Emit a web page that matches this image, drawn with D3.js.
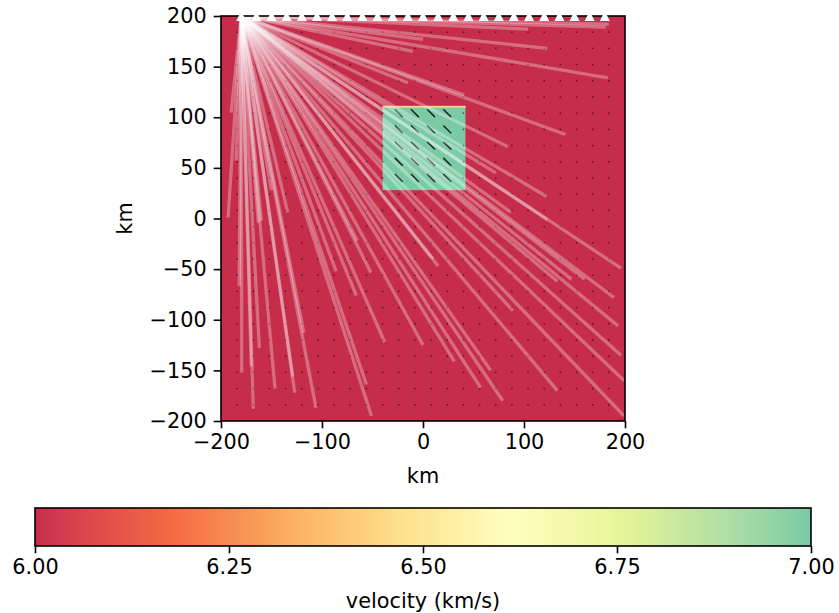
<!DOCTYPE html>
<html>
<head>
<meta charset="utf-8">
<script src="https://cdn.jsdelivr.net/npm/d3@7"></script>
<style>
  body { margin: 0; background: #fff; }
  text { font-family: "DejaVu Sans", sans-serif; }
</style>
</head>
<body>
<svg id="chart" width="839" height="613"></svg>
<script>
// ---- data (km, km/s) ----
const xTicks = [-200, -100, 0, 100, 200];
const yTicks = [-200, -150, -100, -50, 0, 50, 100, 150, 200];
const cbTicks = [6.0, 6.25, 6.5, 6.75, 7.0];
const velocityRange = [6.0, 7.0];
const backgroundVelocity = 6.0;
const anomalyVelocity = 7.0;
const edgeVelocity = 6.45;
const anomalyX = [-40, 42];
const anomalyY = [28, 111];
const source = [-180, 200];
const stations = [-180, -165, -150, -135, -120, -105, -90, -75, -60, -45, -30, -15, 0,
                  15, 30, 45, 60, 75, 90, 105, 120, 135, 150, 165, 180];
const gridX = [-184, -168, -152, -136, -120, -104, -88, -72, -56, -40, -24, -8,
               8, 24, 40, 56, 72, 88, 104, 120, 136, 152, 168, 184];
const gridY = [184, 168, 152, 136, 120, 104, 88, 72, 56, 40, 24, 8,
               -8, -24, -40, -56, -72, -88, -104, -120, -136, -152, -168, -184];
const dashX = [-24, -8, 8, 24];
const dashY = [104, 88, 72, 56, 40];
const dashLength = 11;
// ray end points
const rayEnds = [
  [184, 192], [181, 189], [104, 187], [123, 168], [0, 177], [183, 139], [41, 122],
  [141, 83], [84, 71], [122, 22], [72, 45], [87, 6], [123, -1], [-10, 165], [-15, 134],
  [15, -47], [10, -40], [31, -141], [67, -150], [79, -180], [89, -91], [57, -167],
  [133, -170], [133, -62], [147, -60], [160, -60], [189, -78], [196, -49], [193, -106],
  [196, -135], [199, -160], [199, -195],
  [-182, -67], [-179.5, -152], [-170, -146], [-168, -188], [-162, -128], [-163, -4],
  [-146.5, -168], [-127, -172], [-129, -156], [-118, -113], [-106, -187], [-86, -52],
  [-66, -76], [-51.5, -53.5], [-56, -164], [-51, -195], [-38, -122], [0, -125], [-65, -22],
  [-190, 104.5], [-185, 57], [-193, 1], [-160, -2], [-150, 28], [-134, 6]
];

// ---- colour map: Spectral segment ----
const spectral = ["#9e0142", "#d53e4f", "#f46d43", "#fdae61", "#fee08b", "#ffffbf",
                  "#e6f598", "#abdda4", "#66c2a5", "#3288bd", "#5e4fa2"];
const spectralScale = d3.scaleLinear()
  .domain(d3.range(spectral.length).map(i => i / (spectral.length - 1)))
  .range(spectral)
  .interpolate(d3.interpolateRgb);
const tOf = d3.scaleLinear().domain(velocityRange).range([0.072, 0.77]);
const color = v => spectralScale(tOf(v));

// ---- layout ----
const FONT = 20.8;
const TICK = 7.3;
const LW = 1.6;
const svg = d3.select("#chart");
const plot = { left: 221, top: 16, width: 404, height: 405 };
const x = d3.scaleLinear().domain([-200, 200]).range([plot.left, plot.left + plot.width]);
const y = d3.scaleLinear().domain([-200, 200]).range([plot.top + plot.height, plot.top]);

svg.append("rect").attr("width", 839).attr("height", 613).attr("fill", "#fff");

const defs = svg.append("defs");
defs.append("clipPath").attr("id", "plotClip")
  .append("rect").attr("x", plot.left).attr("y", plot.top)
  .attr("width", plot.width).attr("height", plot.height);
defs.append("clipPath").attr("id", "stationClip")
  .append("rect").attr("x", plot.left).attr("y", plot.top - 1)
  .attr("width", plot.width).attr("height", plot.height + 1);

const g = svg.append("g").attr("clip-path", "url(#plotClip)");

// velocity model
g.append("rect")
  .attr("x", x(-200)).attr("y", y(200))
  .attr("width", x(200) - x(-200)).attr("height", y(-200) - y(200))
  .attr("fill", color(backgroundVelocity));
g.append("rect")
  .attr("x", x(anomalyX[0])).attr("y", y(anomalyY[1]))
  .attr("width", x(anomalyX[1]) - x(anomalyX[0]))
  .attr("height", y(anomalyY[0]) - y(anomalyY[1]))
  .attr("fill", color(anomalyVelocity));
g.append("rect")
  .attr("x", x(anomalyX[0])).attr("y", y(anomalyY[1]) - 0.3)
  .attr("width", x(anomalyX[1]) - x(anomalyX[0]))
  .attr("height", 1.8)
  .attr("fill", color(edgeVelocity));

// grid glyphs: dots where isotropic, dashes inside the anomaly
const cells = [];
gridY.forEach(cy => gridX.forEach(cx => cells.push([cx, cy])));
const isDash = c => dashX.includes(c[0]) && dashY.includes(c[1]);
g.append("g").selectAll("rect").data(cells.filter(c => !isDash(c))).join("rect")
  .attr("x", d => x(d[0]) - 0.75).attr("y", d => y(d[1]) - 0.75)
  .attr("width", 1.5).attr("height", 1.5)
  .attr("fill", "#000").attr("opacity", 0.55);

const half = dashLength / (2 * Math.SQRT2);
const dashes = [];
dashY.forEach(cy => dashX.forEach(cx => dashes.push([cx, cy])));
g.append("g").selectAll("line").data(dashes).join("line")
  .attr("x1", d => x(d[0] - half)).attr("y1", d => y(d[1] + half))
  .attr("x2", d => x(d[0] + half)).attr("y2", d => y(d[1] - half))
  .attr("stroke", "#000").attr("stroke-width", 1.5).attr("opacity", 0.8);

// rays
g.append("g").selectAll("line").data(rayEnds).join("line")
  .attr("x1", x(source[0])).attr("y1", y(source[1]))
  .attr("x2", d => x(d[0])).attr("y2", d => y(d[1]))
  .attr("stroke", "#fff").attr("stroke-width", 3.3)
  .attr("stroke-opacity", 0.3);

// frame
svg.append("rect")
  .attr("x", plot.left).attr("y", plot.top)
  .attr("width", plot.width).attr("height", plot.height)
  .attr("fill", "none").attr("stroke", "#000").attr("stroke-width", LW);

// stations: upward triangles centred on the surface, clipped to the model
const s = 5;
svg.append("g").attr("clip-path", "url(#stationClip)")
  .selectAll("path").data(stations).join("path")
  .attr("d", `M0,${-s}L${s},${s}L${-s},${s}Z`)
  .attr("transform", d => `translate(${x(d)},${y(200)})`)
  .attr("fill", "#fff");

// axes
const fmt = d3.format("d");
const xAxis = svg.append("g")
  .attr("transform", `translate(0,${plot.top + plot.height})`)
  .call(d3.axisBottom(x).tickValues(xTicks).tickSize(TICK).tickPadding(6).tickFormat(fmt));
const yAxis = svg.append("g")
  .attr("transform", `translate(${plot.left},0)`)
  .call(d3.axisLeft(y).tickValues(yTicks).tickSize(TICK).tickPadding(7).tickFormat(fmt));
[xAxis, yAxis].forEach(a => {
  a.select(".domain").remove();
  a.selectAll(".tick line").attr("stroke", "#000").attr("stroke-width", LW);
  a.selectAll(".tick text").attr("fill", "#000").attr("font-size", FONT)
    .attr("font-family", "DejaVu Sans, sans-serif");
});

svg.append("text").attr("x", x(0)).attr("y", 483)
  .attr("text-anchor", "middle").attr("font-size", FONT).text("km");
svg.append("text")
  .attr("transform", `translate(132,${y(0)}) rotate(-90)`)
  .attr("text-anchor", "middle").attr("font-size", FONT).text("km");

// colour bar
const cb = { left: 35, top: 508, width: 776, height: 38 };
const cbx = d3.scaleLinear().domain(velocityRange).range([cb.left, cb.left + cb.width]);
const grad = defs.append("linearGradient").attr("id", "cbGrad")
  .attr("x1", "0%").attr("x2", "100%").attr("y1", "0%").attr("y2", "0%");
const nStops = 60;
d3.range(nStops + 1).forEach(i => {
  const f = i / nStops;
  grad.append("stop").attr("offset", `${f * 100}%`)
    .attr("stop-color", color(velocityRange[0] + f * (velocityRange[1] - velocityRange[0])));
});
svg.append("rect")
  .attr("x", cb.left).attr("y", cb.top).attr("width", cb.width).attr("height", cb.height)
  .attr("fill", "url(#cbGrad)").attr("stroke", "#000").attr("stroke-width", LW);
const cbAxis = svg.append("g")
  .attr("transform", `translate(0,${cb.top + cb.height})`)
  .call(d3.axisBottom(cbx).tickValues(cbTicks).tickSize(TICK).tickPadding(6)
    .tickFormat(d3.format(".2f")));
cbAxis.select(".domain").remove();
cbAxis.selectAll(".tick line").attr("stroke", "#000").attr("stroke-width", LW);
cbAxis.selectAll(".tick text").attr("fill", "#000").attr("font-size", FONT)
  .attr("font-family", "DejaVu Sans, sans-serif");
svg.append("text").attr("x", cbx(6.5)).attr("y", 608)
  .attr("text-anchor", "middle").attr("font-size", FONT).text("velocity (km/s)");
</script>
</body>
</html>
